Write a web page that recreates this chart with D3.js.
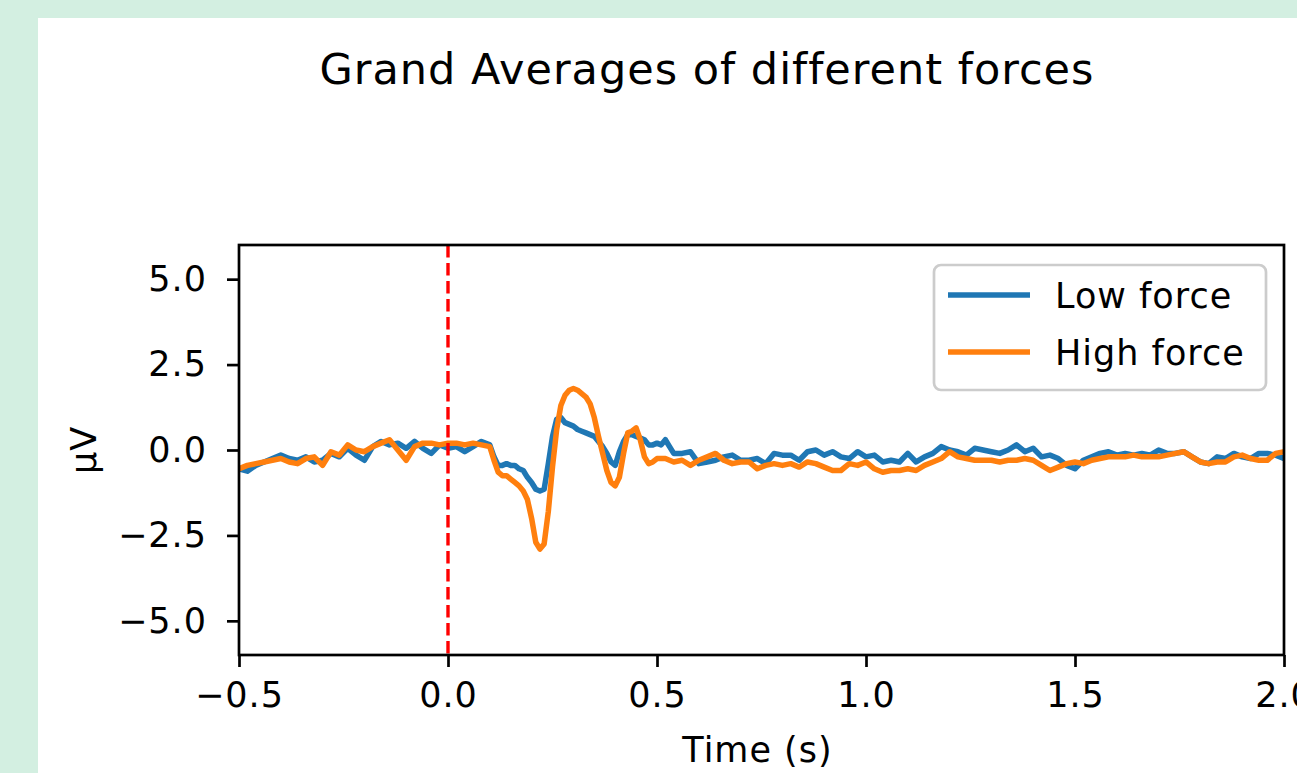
<!DOCTYPE html>
<html>
<head>
<meta charset="utf-8">
<script src="https://cdn.jsdelivr.net/npm/d3@7"></script>
<style>
  body { margin: 0; background: #d3efe1; overflow: hidden; }
  svg { display: block; font-family: "DejaVu Sans", sans-serif; }
</style>
</head>
<body>
<div id="container"></div>
<script>
// time points (s)
const times = [
  -0.50, -0.48, -0.46, -0.44, -0.42, -0.40, -0.38, -0.36, -0.34, -0.32,
  -0.30, -0.28, -0.26, -0.24, -0.22, -0.20, -0.18, -0.16, -0.14, -0.12,
  -0.10, -0.08, -0.06, -0.04, -0.02, 0.00, 0.02, 0.04, 0.06, 0.08,
  0.10, 0.11, 0.12, 0.13, 0.14, 0.15, 0.16, 0.17, 0.18, 0.19,
  0.20, 0.21, 0.22, 0.23, 0.24, 0.25, 0.26, 0.27, 0.28, 0.29,
  0.30, 0.31, 0.32, 0.33, 0.34, 0.35, 0.36, 0.37, 0.38, 0.39,
  0.40, 0.41, 0.42, 0.43, 0.44, 0.45, 0.46, 0.47, 0.48, 0.49,
  0.50, 0.51, 0.52, 0.53, 0.54, 0.56, 0.58, 0.60, 0.62, 0.64,
  0.66, 0.68, 0.70, 0.72, 0.74, 0.76, 0.78, 0.80, 0.82, 0.84,
  0.86, 0.88, 0.90, 0.92, 0.94, 0.96, 0.98, 1.00, 1.02, 1.04,
  1.06, 1.08, 1.10, 1.12, 1.14, 1.16, 1.18, 1.20, 1.22, 1.24,
  1.26, 1.28, 1.30, 1.32, 1.34, 1.36, 1.38, 1.40, 1.42, 1.44,
  1.46, 1.48, 1.50, 1.52, 1.54, 1.56, 1.58, 1.60, 1.62, 1.64,
  1.66, 1.68, 1.70, 1.72, 1.74, 1.76, 1.78, 1.80, 1.82, 1.84,
  1.86, 1.88, 1.90, 1.92, 1.94, 1.96, 1.98, 2.00
];

// grand average, low force (µV)
const lowForce = [
  -0.55, -0.62, -0.45, -0.35, -0.25, -0.15, -0.25, -0.30, -0.20, -0.35,
  -0.30, -0.10, -0.20, 0.05, -0.15, -0.30, 0.10, 0.25, 0.15, 0.20,
  0.05, 0.25, 0.05, -0.10, 0.15, 0.05, 0.10, -0.05, 0.10, 0.25,
  0.15, -0.20, -0.45, -0.45, -0.40, -0.45, -0.45, -0.55, -0.60, -0.80,
  -0.95, -1.15, -1.20, -1.15, -0.40, 0.40, 0.90, 0.95, 0.80, 0.75,
  0.70, 0.60, 0.55, 0.50, 0.45, 0.40, 0.25, 0.10, -0.10, -0.35,
  -0.45, -0.05, 0.25, 0.45, 0.45, 0.40, 0.35, 0.30, 0.15, 0.15,
  0.20, 0.15, 0.30, 0.10, -0.10, -0.10, -0.05, -0.40, -0.35, -0.30,
  -0.20, -0.15, -0.30, -0.30, -0.25, -0.40, -0.10, -0.15, -0.15, -0.30,
  -0.05, 0.00, -0.15, -0.05, -0.20, -0.25, -0.05, -0.20, -0.15, -0.35,
  -0.30, -0.35, -0.10, -0.35, -0.20, -0.10, 0.10, 0.00, -0.05, -0.15,
  0.05, 0.00, -0.05, -0.10, 0.00, 0.15, -0.05, 0.05, -0.20, -0.15,
  -0.25, -0.45, -0.55, -0.30, -0.20, -0.10, -0.05, -0.15, -0.10, -0.15,
  -0.10, -0.15, 0.00, -0.10, -0.10, -0.05, -0.20, -0.35, -0.40, -0.20,
  -0.25, -0.10, -0.20, -0.25, -0.10, -0.10, -0.15, -0.25
];

// grand average, high force (µV)
const highForce = [
  -0.55, -0.45, -0.40, -0.35, -0.30, -0.25, -0.35, -0.40, -0.25, -0.20,
  -0.45, -0.05, -0.15, 0.15, 0.00, -0.05, 0.10, 0.20, 0.30, 0.00,
  -0.30, 0.10, 0.20, 0.20, 0.15, 0.20, 0.20, 0.15, 0.20, 0.15,
  0.10, -0.30, -0.65, -0.75, -0.75, -0.85, -0.95, -1.05, -1.20, -1.45,
  -2.00, -2.70, -2.90, -2.75, -1.80, -0.50, 0.60, 1.30, 1.60, 1.75,
  1.80, 1.75, 1.65, 1.55, 1.35, 0.95, 0.40, -0.10, -0.60, -0.95,
  -1.05, -0.80, -0.10, 0.50, 0.55, 0.65, 0.30, -0.20, -0.40, -0.35,
  -0.25, -0.25, -0.25, -0.30, -0.35, -0.30, -0.45, -0.30, -0.20, -0.10,
  -0.30, -0.40, -0.35, -0.35, -0.55, -0.45, -0.40, -0.45, -0.40, -0.50,
  -0.35, -0.40, -0.50, -0.60, -0.60, -0.40, -0.45, -0.35, -0.55, -0.65,
  -0.60, -0.60, -0.55, -0.60, -0.45, -0.35, -0.25, -0.05, -0.20, -0.25,
  -0.30, -0.30, -0.30, -0.35, -0.30, -0.30, -0.25, -0.30, -0.45, -0.60,
  -0.50, -0.40, -0.35, -0.40, -0.30, -0.25, -0.20, -0.20, -0.20, -0.15,
  -0.20, -0.20, -0.20, -0.15, -0.10, -0.05, -0.20, -0.35, -0.40, -0.35,
  -0.35, -0.20, -0.15, -0.25, -0.30, -0.30, -0.10, -0.05
];

const seriesNames = ["Low force", "High force"];
const seriesColors = ["#1f77b4", "#ff7f0e"];
const xTicks = [-0.5, 0.0, 0.5, 1.0, 1.5, 2.0];
const yTicks = [-5.0, -2.5, 0.0, 2.5, 5.0];
const onsetTime = 0;

const width = 1297;
const height = 773;
const margin = { left: 239, right: 1284, top: 245, bottom: 655 };
const fontSize = 35;

const svg = d3
  .select("#container")
  .append("svg")
  .attr("width", width)
  .attr("height", height);

// white figure panel on the green page
svg
  .append("rect")
  .attr("x", 38)
  .attr("y", 18)
  .attr("width", width)
  .attr("height", height)
  .attr("fill", "white");

const xScale = d3.scaleLinear().domain([-0.5, 2.0]).range([margin.left, margin.right]);
const yScale = d3.scaleLinear().domain([-6, 6]).range([margin.bottom, margin.top]);

svg
  .append("clipPath")
  .attr("id", "plotClip")
  .append("rect")
  .attr("x", margin.left)
  .attr("y", margin.top)
  .attr("width", margin.right - margin.left)
  .attr("height", margin.bottom - margin.top);

const series = [lowForce, highForce].map((values, i) => ({
  name: seriesNames[i],
  color: seriesColors[i],
  points: times.map((t, j) => [t, values[j]]),
}));

const line = d3
  .line()
  .x((d) => xScale(d[0]))
  .y((d) => yScale(d[1]));

svg
  .append("g")
  .attr("clip-path", "url(#plotClip)")
  .selectAll("path")
  .data(series)
  .enter()
  .append("path")
  .attr("d", (d) => line(d.points))
  .attr("fill", "none")
  .attr("stroke", (d) => d.color)
  .attr("stroke-width", 5.5)
  .attr("stroke-linejoin", "round")
  .attr("stroke-linecap", "square");

// stimulus onset
svg
  .append("line")
  .attr("x1", xScale(onsetTime))
  .attr("x2", xScale(onsetTime))
  .attr("y1", margin.top)
  .attr("y2", margin.bottom)
  .attr("stroke", "red")
  .attr("stroke-width", 3.4)
  .attr("stroke-dasharray", "12.6,5.4");

const xAxis = d3
  .axisBottom(xScale)
  .tickValues(xTicks)
  .tickFormat(d3.format(".1f"))
  .tickSize(12)
  .tickPadding(15);

const yAxis = d3
  .axisLeft(yScale)
  .tickValues(yTicks)
  .tickFormat(d3.format(".1f"))
  .tickSize(12)
  .tickPadding(20);

svg
  .append("g")
  .attr("id", "x-axis")
  .attr("transform", `translate(0, ${margin.bottom})`)
  .call(xAxis);

svg
  .append("g")
  .attr("id", "y-axis")
  .attr("transform", `translate(${margin.left}, 0)`)
  .call(yAxis);

svg.selectAll("#x-axis .domain, #y-axis .domain").remove();
svg
  .selectAll(".tick line")
  .attr("stroke", "#000")
  .attr("stroke-width", 2.7);
svg
  .selectAll(".tick text")
  .attr("fill", "#000")
  .attr("font-size", fontSize)
  .attr("letter-spacing", 1)
  .attr("font-family", "DejaVu Sans");

// spines
svg
  .append("rect")
  .attr("x", margin.left)
  .attr("y", margin.top)
  .attr("width", margin.right - margin.left)
  .attr("height", margin.bottom - margin.top)
  .attr("fill", "none")
  .attr("stroke", "#000")
  .attr("stroke-width", 2.7);

svg
  .append("text")
  .attr("x", 707)
  .attr("y", 84)
  .attr("text-anchor", "middle")
  .attr("font-size", 43)
  .attr("letter-spacing", 1)
  .attr("fill", "#000")
  .text("Grand Averages of different forces");

svg
  .append("text")
  .attr("x", (margin.left + margin.right) / 2 - 4)
  .attr("y", 762)
  .attr("text-anchor", "middle")
  .attr("font-size", fontSize)
  .attr("letter-spacing", 1)
  .attr("fill", "#000")
  .text("Time (s)");

svg
  .append("text")
  .attr("transform", `translate(96, ${yScale(0)}) rotate(-90)`)
  .attr("text-anchor", "middle")
  .attr("font-size", fontSize)
  .attr("letter-spacing", 1)
  .attr("fill", "#000")
  .text("µV");

// legend
const legend = svg.append("g").attr("transform", "translate(934, 265)");

legend
  .append("rect")
  .attr("width", 332)
  .attr("height", 125)
  .attr("rx", 7)
  .attr("fill", "white")
  .attr("fill-opacity", 0.8)
  .attr("stroke", "#cccccc")
  .attr("stroke-width", 2.7);

const legendItems = legend
  .selectAll("g.item")
  .data(series)
  .enter()
  .append("g")
  .attr("class", "item")
  .attr("transform", (d, i) => `translate(0, ${30 + i * 57})`);

legendItems
  .append("line")
  .attr("x1", 14)
  .attr("x2", 96)
  .attr("stroke", (d) => d.color)
  .attr("stroke-width", 5.5);

legendItems
  .append("text")
  .attr("x", 121)
  .attr("y", 13)
  .attr("font-size", fontSize)
  .attr("letter-spacing", 1)
  .attr("fill", "#000")
  .text((d) => d.name);
</script>
</body>
</html>
